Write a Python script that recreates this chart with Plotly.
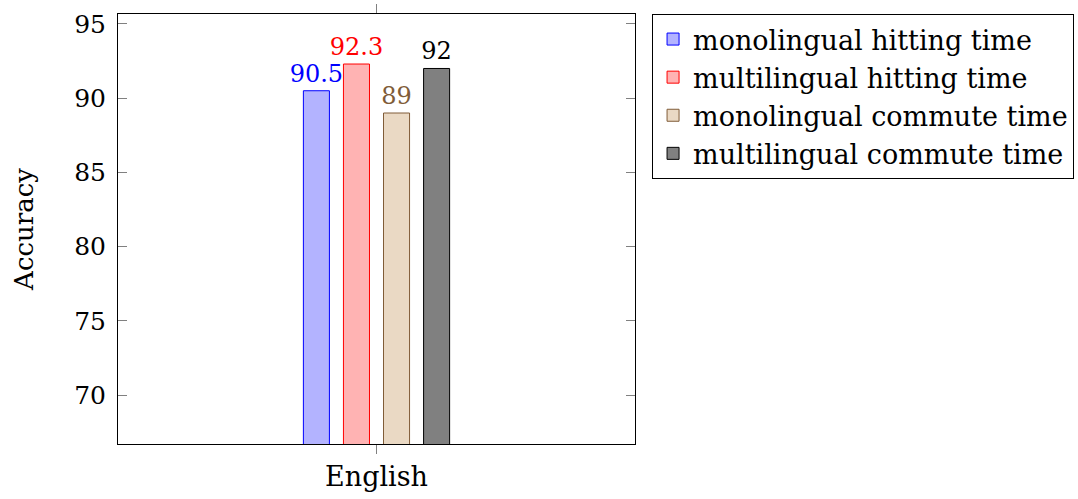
import plotly.graph_objects as go

categories = ["English"]
series_names = ["monolingual hitting time", "multilingual hitting time",
                "monolingual commute time", "multilingual commute time"]
values = [[90.5], [92.3], [89.0], [92.0]]
labels = [["90.5"], ["92.3"], ["89"], ["92"]]
fills = ["rgb(179,179,255)", "rgb(255,179,179)", "rgb(234,217,196)", "rgb(128,128,128)"]
lines = ["rgb(0,0,255)", "rgb(255,0,0)", "rgb(128,92,56)", "rgb(0,0,0)"]
text_colors = ["rgb(0,0,255)", "rgb(255,0,0)", "rgb(128,92,56)", "rgb(0,0,0)"]
y_ticks = [70, 75, 80, 85, 90, 95]

FONT = "DejaVu Serif"
FS = 24

fig = go.Figure()
for name, v, lab, fc, lc, tc in zip(series_names, values, labels, fills, lines, text_colors):
    fig.add_trace(go.Bar(
        x=categories, y=v, name=name,
        marker=dict(color=fc, line=dict(color=lc, width=1)),
        text=lab, textposition="outside",
        textfont=dict(color=tc, size=FS, family=FONT),
        cliponaxis=False,
    ))

fig.update_layout(
    width=1078, height=499,
    margin=dict(l=118, r=443, t=14, b=55, autoexpand=False),
    plot_bgcolor="white", paper_bgcolor="white",
    barmode="group", bargap=0.69, bargroupgap=0.35,
    font=dict(family=FONT, size=FS, color="black"),
    showlegend=True,
    legend=dict(x=1.033, y=1.0, xanchor="left", yanchor="top",
                bordercolor="black", borderwidth=1,
                font=dict(size=27, family=FONT),
                itemwidth=30, tracegroupgap=0),
    uniformtext=dict(minsize=FS, mode="show"),
)
fig.update_xaxes(
    range=[-0.5, 0.5], showline=True, linecolor="black", linewidth=1, mirror="ticks",
    ticks="outside", ticklen=9, tickcolor="gray", tickwidth=1, automargin=False,
    tickfont=dict(size=27, family=FONT), showgrid=False, zeroline=False,
)
fig.update_yaxes(
    range=[66.7, 95.67], tickvals=y_ticks, showline=True, linecolor="black", linewidth=1,
    mirror="ticks", ticks="inside", ticklen=9, tickcolor="gray", tickwidth=1,
    ticklabelstandoff=6, automargin=False,
    tickfont=dict(size=25, family=FONT), showgrid=False, zeroline=False,
    title=dict(text="Accuracy", font=dict(size=26, family=FONT), standoff=33),
)

fig.write_html("out.html", config={"displayModeBar": False},
               post_script="document.body.style.margin='0';document.body.style.overflow='hidden';")
